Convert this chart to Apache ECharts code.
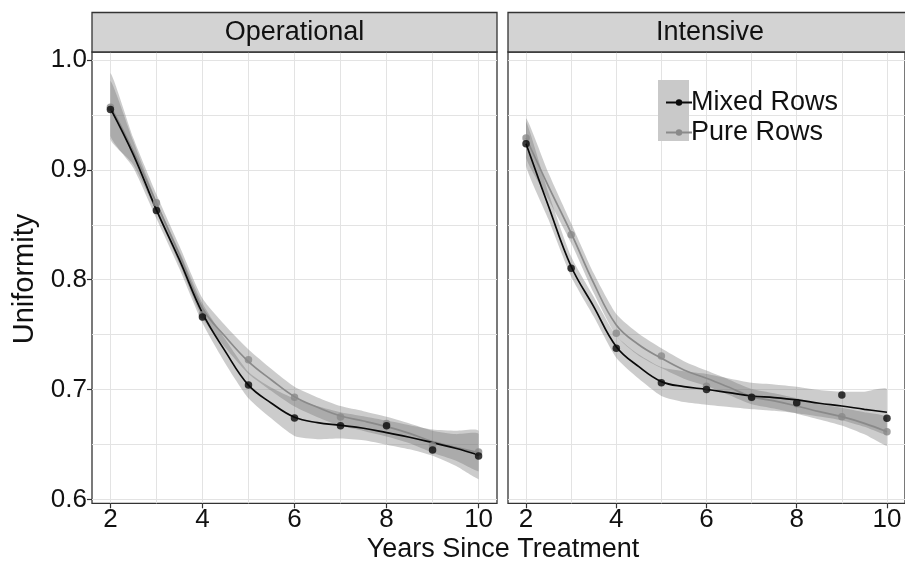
<!DOCTYPE html>
<html><head><meta charset="utf-8">
<script src="https://cdn.jsdelivr.net/npm/echarts@6/dist/echarts.min.js"></script>
<style>html,body{margin:0;padding:0;background:#fff}#c{width:905px;height:563px}</style>
</head><body><div id="c"></div>
<script>
// ---- data ----
const panels = ['Operational', 'Intensive'];
const seriesNames = ['Mixed Rows', 'Pure Rows'];
const years = [2, 3, 4, 5, 6, 7, 8, 9, 10];
const fitX = [2, 2.5, 3, 3.5, 4, 4.5, 5, 5.5, 6, 6.5, 7, 7.5, 8, 8.5, 9, 9.5, 10];
const xTickLabels = [2, 4, 6, 8, 10];
const xGridValues = [2, 3, 4, 5, 6, 7, 8, 9, 10];
const yTickLabels = [0.6, 0.7, 0.8, 0.9, 1.0];
const yGridValues = [0.6, 0.65, 0.7, 0.75, 0.8, 0.85, 0.9, 0.95, 1.0];

// observed points
const opMixedPts = [0.955, 0.863, 0.766, 0.704, 0.674, 0.667, 0.667, 0.645, 0.6395];
const opPurePts  = [0.957, 0.870, 0.768, 0.727, 0.693, 0.675, 0.669, 0.649, 0.643];
const inMixedPts = [0.9237, 0.8105, 0.7376, 0.7062, 0.700, 0.693, 0.688, 0.695, 0.6738];
const inPurePts  = [0.929, 0.8408, 0.7512, 0.7306, 0.703, 0.6926, 0.687, 0.6753, 0.6616];

// smooth fits
const opMixedFit = [0.956, 0.9137, 0.8636, 0.818, 0.7695, 0.7345, 0.704, 0.6875, 0.6747, 0.6698, 0.6674, 0.6647, 0.6607, 0.6565, 0.6516, 0.6465, 0.6404];
const opPureFit  = [0.958, 0.9167, 0.8697, 0.8226, 0.774, 0.748, 0.7254, 0.7087, 0.6935, 0.6838, 0.6759, 0.6713, 0.6662, 0.6601, 0.6525, 0.6474, 0.6425];
const inMixedFit = [0.9237, 0.8666, 0.812, 0.7755, 0.739, 0.7208, 0.7072, 0.7026, 0.7002, 0.6971, 0.6941, 0.6926, 0.6905, 0.6875, 0.685, 0.682, 0.6793];
const inPureFit  = [0.929, 0.8848, 0.8424, 0.7968, 0.7588, 0.7408, 0.7285, 0.7178, 0.7102, 0.702, 0.6935, 0.6896, 0.685, 0.6798, 0.6753, 0.6692, 0.6616];

// confidence band half widths
const opMixedHw = [0.025, 0.012, 0.008, 0.008, 0.009, 0.011, 0.012, 0.014, 0.017, 0.015, 0.012, 0.011, 0.011, 0.011, 0.012, 0.016, 0.022];
const opPureHw  = [0.030, 0.012, 0.008, 0.008, 0.009, 0.010, 0.011, 0.010, 0.009, 0.009, 0.009, 0.009, 0.009, 0.009, 0.010, 0.012, 0.017];
const inMixedHw = [0.020, 0.012, 0.009, 0.009, 0.010, 0.011, 0.013, 0.014, 0.014, 0.013, 0.012, 0.012, 0.012, 0.012, 0.013, 0.016, 0.021];
const inPureHw  = [0.018, 0.012, 0.009, 0.009, 0.010, 0.010, 0.009, 0.008, 0.007, 0.007, 0.007, 0.007, 0.007, 0.007, 0.008, 0.010, 0.013];

// ---- chart ----
const FONT = 'Liberation Sans, Arial, sans-serif';
const mixedColor = '#0a0a0a';
const pureColor = '#8a8a8a';
const bandColor = 'rgba(110,110,110,0.35)';

const grids = [
  { left: 92, top: 52, width: 405, height: 451.3 },
  { left: 508, top: 52, width: 404, height: 451.3 }
];
const X_MIN = 1.6, X_MAX = 10.4, Y_MIN = 0.5964, Y_MAX = 1.0073;

const xAxes = [], yAxes = [];
grids.forEach((g, gi) => {
  xAxes.push({
    type: 'value', gridIndex: gi, min: X_MIN, max: X_MAX, position: 'bottom',
    axisLine: { show: false },
    axisTick: { show: true, customValues: xTickLabels, length: 5, lineStyle: { color: '#333', width: 1.2 } },
    axisLabel: { customValues: xTickLabels, fontSize: 26, fontFamily: FONT, color: '#111', margin: 4 },
    splitLine: { show: false }
  });
  xAxes.push({
    type: 'value', gridIndex: gi, min: X_MIN, max: X_MAX, position: 'top',
    axisLine: { show: false },
    axisTick: { show: false, customValues: xGridValues },
    axisLabel: { show: false },
    splitLine: { show: true, lineStyle: { color: '#e3e3e3', width: 1 } }
  });
  yAxes.push({
    type: 'value', gridIndex: gi, min: Y_MIN, max: Y_MAX, position: 'left',
    axisLine: { show: false },
    axisTick: { show: gi === 0, customValues: yTickLabels, length: 5, lineStyle: { color: '#333', width: 1.2 } },
    axisLabel: { show: gi === 0, customValues: yTickLabels, fontSize: 26, fontFamily: FONT, color: '#111', margin: 5,
                 formatter: v => v.toFixed(1) },
    splitLine: { show: false }
  });
  yAxes.push({
    type: 'value', gridIndex: gi, min: Y_MIN, max: Y_MAX, position: 'right',
    axisLine: { show: false },
    axisTick: { show: false, customValues: yGridValues },
    axisLabel: { show: false },
    splitLine: { show: true, lineStyle: { color: '#e3e3e3', width: 1 } }
  });
});

// confidence band drawn as one polygon through the axis scales
function band(gi, fit, hw, id) {
  const rows = fitX.map((x, i) => [x, fit[i] - hw[i], fit[i] + hw[i]]);
  return {
    type: 'custom', name: id, coordinateSystem: 'cartesian2d',
    xAxisIndex: gi * 2, yAxisIndex: gi * 2, silent: true, z: 1,
    data: [rows[0]],
    encode: { x: 0, y: 1 },
    renderItem: function (params, api) {
      const upper = rows.map(r => api.coord([r[0], r[2]]));
      const lower = rows.map(r => api.coord([r[0], r[1]])).reverse();
      const pts = upper.concat(lower);
      const xs = pts.map(p => p[0]), ys = pts.map(p => p[1]);
      const cMin = [Math.min.apply(null, xs), Math.min.apply(null, ys)];
      const cMax = [Math.max.apply(null, xs), Math.max.apply(null, ys)];
      return {
        type: 'polygon',
        shape: { points: pts, smooth: 0.2, smoothConstraint: [cMin, cMax] },
        style: { fill: bandColor }
      };
    }
  };
}
function fitLine(gi, fit, name, color) {
  return { type: 'line', name: name, xAxisIndex: gi * 2, yAxisIndex: gi * 2, smooth: 0.4,
           symbol: 'circle', symbolSize: 7, showSymbol: false, z: 3,
           itemStyle: { color: color }, lineStyle: { color: color, width: 1.7 },
           data: fitX.map((x, i) => [x, fit[i]]) };
}
function points(gi, pts, name, color) {
  return { type: 'scatter', name: name + ' obs', xAxisIndex: gi * 2, yAxisIndex: gi * 2, symbolSize: 7.5, z: 4,
           itemStyle: { color: color }, data: years.map((x, i) => [x, pts[i]]) };
}

const series = [
  band(0, opMixedFit, opMixedHw, 'opM'), band(0, opPureFit, opPureHw, 'opP'),
  band(1, inMixedFit, inMixedHw, 'inM'), band(1, inPureFit, inPureHw, 'inP'),
  fitLine(0, opPureFit, seriesNames[1], pureColor), fitLine(0, opMixedFit, seriesNames[0], mixedColor),
  fitLine(1, inPureFit, seriesNames[1], pureColor), fitLine(1, inMixedFit, seriesNames[0], mixedColor),
  points(0, opPurePts, seriesNames[1], pureColor), points(0, opMixedPts, seriesNames[0], mixedColor),
  points(1, inPurePts, seriesNames[1], pureColor), points(1, inMixedPts, seriesNames[0], mixedColor)
];

function strip(gi) {
  const g = grids[gi];
  return [
    { type: 'rect', shape: { x: g.left, y: 12.5, width: g.width, height: 39.5 },
      style: { fill: '#d3d3d3', stroke: '#333', lineWidth: 1.3 }, z: 10 },
    { type: 'text', x: g.left + g.width / 2, y: 32.5, z: 11,
      style: { text: panels[gi], font: '27px ' + FONT, fill: '#111', textAlign: 'center', textVerticalAlign: 'middle' } }
  ];
}

const option = {
  backgroundColor: '#fff',
  animation: false,
  grid: grids.map(g => Object.assign({ show: true, backgroundColor: '#fff', borderColor: '#333', borderWidth: 1.3 }, g)),
  xAxis: xAxes,
  yAxis: yAxes,
  legend: {
    data: seriesNames, orient: 'vertical', left: 660, top: 84, itemWidth: 26, itemHeight: 8, itemGap: 3,
    textStyle: { fontSize: 27, fontFamily: FONT, color: '#111', lineHeight: 27, padding: [0, 0, 0, -6] },
    selectedMode: false, z: 20
  },
  graphic: [].concat(strip(0), strip(1), [
    { type: 'rect', shape: { x: 658, y: 80, width: 31, height: 61 }, style: { fill: '#c9c9c9' }, z: 15 },
    { type: 'text', x: 25, y: 279, rotation: Math.PI / 2, z: 11,
      style: { text: 'Uniformity', font: '29px ' + FONT, fill: '#111', textAlign: 'center', textVerticalAlign: 'middle' } },
    { type: 'text', x: 503, y: 550, z: 11,
      style: { text: 'Years Since Treatment', font: '27px ' + FONT, fill: '#111', textAlign: 'center', textVerticalAlign: 'middle' } }
  ]),
  series: series
};
const chart = echarts.init(document.getElementById('c'), null, { renderer: 'canvas' });
chart.setOption(option);
</script></body></html>
